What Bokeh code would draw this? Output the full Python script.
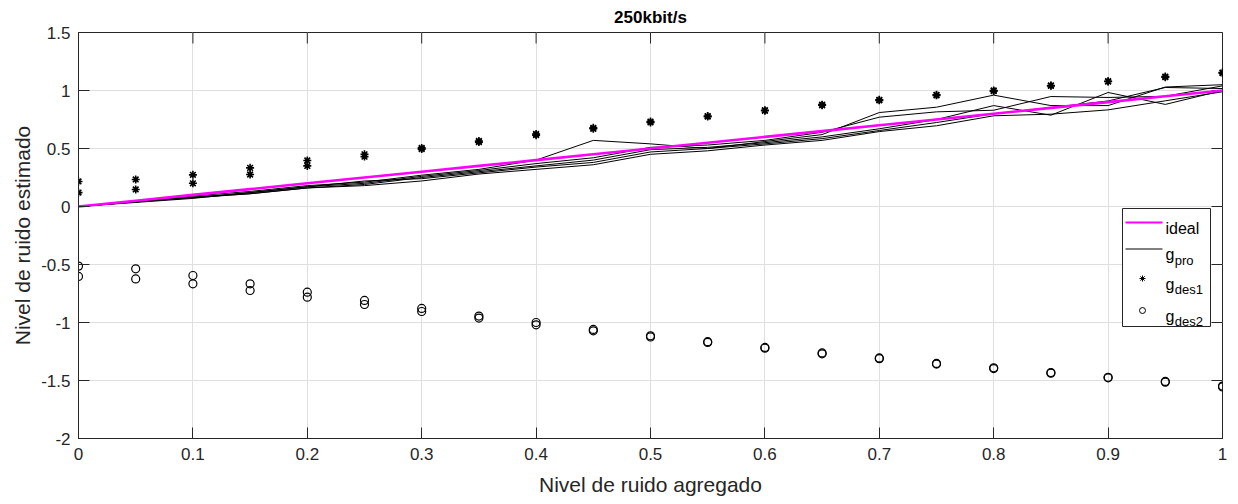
from bokeh.plotting import figure
from bokeh.models import (Range1d, LinearAxis, FixedTicker, Label, ColumnDataSource)
from bokeh.embed import file_html
from bokeh.resources import INLINE

# ---------------- data ----------------
noise_level = [0.0, 0.05, 0.1, 0.15, 0.2, 0.25, 0.3, 0.35, 0.4, 0.45, 0.5,
               0.55, 0.6, 0.65, 0.7, 0.75, 0.8, 0.85, 0.9, 0.95, 1.0]
ideal = [0.0, 0.05, 0.1, 0.15, 0.2, 0.25, 0.3, 0.35, 0.4, 0.45, 0.5,
         0.55, 0.6, 0.65, 0.7, 0.75, 0.8, 0.85, 0.9, 0.95, 1.0]

g_pro_1 = [0, 0.045, 0.09, 0.13, 0.18, 0.21, 0.27, 0.32, 0.40, 0.57, 0.54,
           0.50, 0.56, 0.62, 0.81, 0.856, 0.96, 0.87, 0.87, 1.03, 1.05]
g_pro_2 = [0, 0.04, 0.08, 0.12, 0.17, 0.20, 0.26, 0.31, 0.37, 0.42, 0.51,
           0.53, 0.57, 0.64, 0.77, 0.816, 0.83, 0.948, 0.94, 0.95, 1.04]
g_pro_3 = [0, 0.04, 0.075, 0.11, 0.16, 0.19, 0.25, 0.30, 0.35, 0.40, 0.49,
           0.51, 0.55, 0.60, 0.67, 0.75, 0.87, 0.787, 0.983, 0.88, 1.0]
g_pro_4 = [0, 0.035, 0.07, 0.12, 0.17, 0.22, 0.24, 0.29, 0.34, 0.38, 0.47,
           0.50, 0.54, 0.585, 0.655, 0.724, 0.80, 0.853, 0.91, 1.026, 1.017]
g_pro_5 = [0, 0.04, 0.08, 0.11, 0.16, 0.18, 0.22, 0.28, 0.32, 0.36, 0.45,
           0.48, 0.53, 0.57, 0.646, 0.696, 0.782, 0.796, 0.833, 0.911, 0.989]

g_des1_a = [0.216, 0.233, 0.273, 0.333, 0.397, 0.45, 0.505, 0.565, 0.625, 0.678,
            0.732, 0.78, 0.83, 0.878, 0.92, 0.963, 1.0, 1.043, 1.08, 1.12, 1.155]
g_des1_b = [0.12, 0.147, 0.20, 0.276, 0.35, 0.43, 0.495, 0.555, 0.615, 0.67,
            0.725, 0.775, 0.825, 0.873, 0.915, 0.958, 0.995, 1.04, 1.077, 1.115, 1.15]

g_des2_a = [-0.514, -0.537, -0.595, -0.667, -0.739, -0.81, -0.879, -0.945, -1.0,
            -1.06, -1.115, -1.165, -1.215, -1.262, -1.305, -1.353, -1.39, -1.432,
            -1.472, -1.508, -1.548]
g_des2_b = [-0.603, -0.624, -0.667, -0.724, -0.782, -0.845, -0.905, -0.962, -1.02,
            -1.072, -1.125, -1.172, -1.221, -1.27, -1.312, -1.358, -1.397, -1.437,
            -1.477, -1.514, -1.556]

x_ticks = [0, 0.1, 0.2, 0.3, 0.4, 0.5, 0.6, 0.7, 0.8, 0.9, 1.0]
x_tick_labels = ["0", "0.1", "0.2", "0.3", "0.4", "0.5", "0.6", "0.7", "0.8", "0.9", "1"]
y_ticks = [-2, -1.5, -1, -0.5, 0, 0.5, 1, 1.5]
y_tick_labels = ["-2", "-1.5", "-1", "-0.5", "0", "0.5", "1", "1.5"]

title_text = "250kbit/s"
x_label = "Nivel de ruido agregado"
y_label = "Nivel de ruido estimado"
legend_main = ["ideal", "g", "g", "g"]
legend_sub = ["", "pro", "des1", "des2"]

# ---------------- styling ----------------
FONT = "Liberation Sans"
AX = "#262626"
GRID = "#dfdfdf"
MAGENTA = "#ff00ff"
FW, FH = 1144, 406
X0, X1, Y0, Y1 = 0, 1, -2, 1.5
TICK = 11

p = figure(frame_width=FW, frame_height=FH,
           x_range=Range1d(X0, X1), y_range=Range1d(Y0, Y1),
           output_backend="svg", toolbar_location=None,
           min_border_left=78, min_border_right=16,
           min_border_top=32, min_border_bottom=66,
           x_axis_location=None, y_axis_location=None)
p.outline_line_color = AX
p.background_fill_color = "white"
p.border_fill_color = "white"
# pixel-space range of the frame, used only to place the legend box
p.extra_x_ranges = {"px": Range1d(0, FW)}
p.extra_y_ranges = {"px": Range1d(0, FH)}

p.title.text = title_text
p.title.align = "center"
p.title.text_font = FONT
p.title.text_font_size = "17px"
p.title.text_font_style = "bold"
p.title.text_color = "black"
p.title.standoff = 11

xt = FixedTicker(ticks=x_ticks)
yt = FixedTicker(ticks=y_ticks)


def style_axis(ax):
    ax.axis_line_color = AX
    ax.major_tick_line_color = AX
    ax.major_tick_in = TICK
    ax.major_tick_out = 0
    ax.minor_tick_line_color = None
    ax.major_label_text_font = FONT
    ax.major_label_text_font_size = "17px"
    ax.major_label_text_color = AX
    ax.major_label_standoff = 9
    ax.axis_label_text_font = FONT
    ax.axis_label_text_font_size = "21px"
    ax.axis_label_text_font_style = "normal"
    ax.axis_label_text_color = AX


bottom = LinearAxis(ticker=xt, axis_label=x_label,
                    major_label_overrides={t: l for t, l in zip(x_ticks, x_tick_labels)})
style_axis(bottom)
bottom.axis_label_standoff = 10
left = LinearAxis(ticker=yt, axis_label=y_label,
                  major_label_overrides={t: l for t, l in zip(y_ticks, y_tick_labels)})
style_axis(left)
left.major_label_standoff = 8
left.axis_label_standoff = 4
p.add_layout(bottom, "below")
p.add_layout(left, "left")

p.xgrid.ticker = xt
p.ygrid.ticker = yt
p.xgrid.grid_line_color = GRID
p.ygrid.grid_line_color = GRID

# inward ticks on the top and right edges of the box (MATLAB style)
tick_dy = TICK * (Y1 - Y0) / FH
tick_dx = TICK * (X1 - X0) / FW
p.segment(x0=x_ticks, x1=x_ticks, y0=[Y1] * len(x_ticks),
          y1=[Y1 - tick_dy] * len(x_ticks), line_color=AX, line_width=1)
p.segment(x0=[X1] * len(y_ticks), x1=[X1 - tick_dx] * len(y_ticks),
          y0=y_ticks, y1=y_ticks, line_color=AX, line_width=1)

# ---------------- marks ----------------
for ys in (g_pro_1, g_pro_2, g_pro_3, g_pro_4, g_pro_5):
    p.line(noise_level, ys, line_color="black", line_width=1)

p.line(noise_level, ideal, line_color=MAGENTA, line_width=2.6)

src_des1 = ColumnDataSource(dict(x=noise_level + noise_level, y=g_des1_a + g_des1_b))
p.scatter("x", "y", source=src_des1, marker="asterisk", size=8,
          line_color="black", line_width=1.6)
src_des2 = ColumnDataSource(dict(x=noise_level + noise_level, y=g_des2_a + g_des2_b))
p.scatter("x", "y", source=src_des2, marker="circle", size=8,
          fill_color=None, line_color="black", line_width=1.2)

# ---------------- legend (drawn in frame pixel space) ----------------
LEG_L, LEG_R, LEG_B, LEG_T = 1044, 1132, 112, 230
item_cy = [216, 189.5, 160, 128]
g_x0, g_x1 = 1047, 1084
m_x = 1064
txt_x = 1087
PX = dict(x_range_name="px", y_range_name="px")

p.quad(left=[LEG_L], right=[LEG_R], bottom=[LEG_B], top=[LEG_T],
       fill_color="white", line_color=AX, line_width=1, **PX)
p.line([g_x0, g_x1], [item_cy[0]] * 2, line_color=MAGENTA, line_width=2, **PX)
p.line([g_x0, g_x1], [item_cy[1]] * 2, line_color="black", line_width=1, **PX)
p.scatter([m_x], [item_cy[2]], marker="asterisk", size=6, line_color="black",
          line_width=1, **PX)
p.scatter([m_x], [item_cy[3]], marker="circle", size=6, fill_color=None,
          line_color="black", line_width=1, **PX)

for cy, main, sub in zip(item_cy, legend_main, legend_sub):
    p.add_layout(Label(x=txt_x, y=cy - 5.5, x_units="screen", y_units="screen",
                       text=main, text_font=FONT, text_font_size="16px",
                       text_color="black", text_baseline="alphabetic"))
    if sub:
        p.add_layout(Label(x=txt_x + 9.3, y=cy - 11, x_units="screen", y_units="screen",
                           text=sub, text_font=FONT, text_font_size="13px",
                           text_color="black", text_baseline="alphabetic"))

open("out.html", "w").write(file_html(p, INLINE))
